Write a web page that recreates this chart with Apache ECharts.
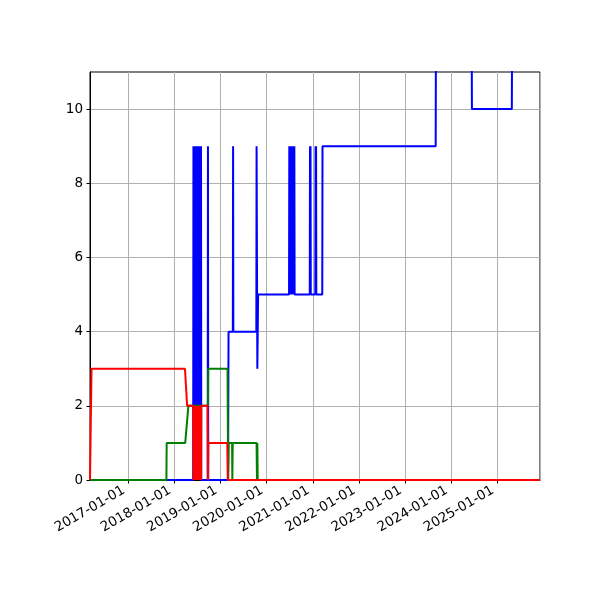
<!DOCTYPE html>
<html>
<head>
<meta charset="utf-8">
<script src="https://cdn.jsdelivr.net/npm/echarts@6/dist/echarts.min.js"></script>
<style>
  html, body { margin: 0; padding: 0; background: #fff; }
  #chart { width: 600px; height: 600px; }
</style>
</head>
<body>
<div id="chart"></div>
<script>
// [date, value] points
const blueSeries = [
    ['2016-03-04', 0], ['2018-05-30', 0],
    ['2018-06-01', 9], ['2018-06-03', 0], ['2018-06-05', 9], ['2018-06-07', 0],
    ['2018-06-09', 9], ['2018-06-11', 0], ['2018-06-13', 9], ['2018-06-15', 0],
    ['2018-06-17', 9], ['2018-06-19', 0], ['2018-06-21', 9], ['2018-06-23', 0],
    ['2018-06-25', 9], ['2018-06-27', 0], ['2018-06-29', 9], ['2018-07-01', 0],
    ['2018-07-03', 9], ['2018-07-05', 0], ['2018-07-07', 9], ['2018-07-09', 0],
    ['2018-07-11', 9], ['2018-07-13', 0], ['2018-07-15', 9], ['2018-07-17', 0],
    ['2018-07-19', 9], ['2018-07-21', 0], ['2018-07-23', 9], ['2018-07-25', 0],
    ['2018-07-27', 9], ['2018-07-29', 0], ['2018-07-31', 9], ['2018-08-02', 0],
    ['2018-09-22', 0], ['2018-09-24', 9], ['2018-09-26', 0],
    ['2019-03-02', 0], ['2019-03-06', 4], ['2019-04-09', 4], ['2019-04-11', 9], ['2019-04-13', 4],
    ['2019-10-12', 4], ['2019-10-14', 9], ['2019-10-20', 3], ['2019-10-26', 5],
    ['2020-06-27', 5],
    ['2020-06-29', 9], ['2020-07-01', 5], ['2020-07-03', 9], ['2020-07-05', 5],
    ['2020-07-07', 9], ['2020-07-09', 5], ['2020-07-11', 9], ['2020-07-13', 5],
    ['2020-07-15', 9], ['2020-07-17', 5], ['2020-07-19', 9], ['2020-07-21', 5],
    ['2020-07-23', 9], ['2020-07-25', 5], ['2020-07-27', 9], ['2020-07-29', 5],
    ['2020-07-31', 9], ['2020-08-02', 5], ['2020-08-04', 9], ['2020-08-06', 5],
    ['2020-08-08', 9], ['2020-08-10', 5],
    ['2020-12-08', 5], ['2020-12-10', 9], ['2020-12-12', 5], ['2020-12-14', 9], ['2020-12-16', 5],
    ['2021-01-21', 5], ['2021-01-23', 9], ['2021-01-25', 5], ['2021-01-27', 9], ['2021-01-29', 5],
    ['2021-03-17', 5], ['2021-03-19', 9],
    ['2023-09-01', 9], ['2023-09-03', 12],
    ['2024-06-12', 12], ['2024-06-14', 10],
    ['2025-04-26', 10], ['2025-04-28', 12],
    ['2025-12-05', 12]
];

const greenSeries = [
    ['2016-03-04', 0], ['2017-10-30', 0], ['2017-11-01', 1],
    ['2018-03-28', 1], ['2018-04-22', 2],
    ['2018-09-24', 2], ['2018-09-26', 3],
    ['2019-02-26', 3], ['2019-03-03', 0], ['2019-03-08', 1],
    ['2019-04-03', 1], ['2019-04-05', 0], ['2019-04-08', 1],
    ['2019-10-14', 1], ['2019-10-17', 0], ['2019-10-20', 1], ['2019-10-23', 0],
    ['2025-12-05', 0]
];

const redSeries = [
    ['2016-03-04', 0], ['2016-03-14', 0], ['2016-03-16', 3],
    ['2018-03-26', 3], ['2018-04-12', 2], ['2018-05-30', 2],
    ['2018-06-01', 0], ['2018-06-03', 2], ['2018-06-05', 0], ['2018-06-07', 2],
    ['2018-06-09', 0], ['2018-06-11', 2], ['2018-06-13', 0], ['2018-06-15', 2],
    ['2018-06-17', 0], ['2018-06-19', 2], ['2018-06-21', 0], ['2018-06-23', 2],
    ['2018-06-25', 0], ['2018-06-27', 2], ['2018-06-29', 0], ['2018-07-01', 2],
    ['2018-07-03', 0], ['2018-07-05', 2], ['2018-07-07', 0], ['2018-07-09', 2],
    ['2018-07-11', 0], ['2018-07-13', 2], ['2018-07-15', 0], ['2018-07-17', 2],
    ['2018-07-19', 0], ['2018-07-21', 2], ['2018-07-23', 0], ['2018-07-25', 2],
    ['2018-07-27', 0], ['2018-07-29', 2], ['2018-07-31', 0], ['2018-08-02', 2],
    ['2018-09-21', 2], ['2018-09-24', 0], ['2018-09-27', 1],
    ['2019-02-24', 1], ['2019-02-28', 0],
    ['2025-12-05', 0]
];

const xMin = '2016-03-04';
const xMax = '2025-12-05';
const yTicks = [0, 2, 4, 6, 8, 10];

const YEAR = 365.25 * 24 * 3600 * 1000;
const font = 'DejaVu Sans';

function line_chart(element) {
    const chartDom = document.getElementById(element);
    const myChart = echarts.init(chartDom);
    let option;

    function lineSeries(data, color) {
        return {
            type: 'line',
            data: data,
            showSymbol: false,
            animation: false,
            lineStyle: {color: color, width: 2},
            itemStyle: {color: color},
            clip: true
        };
    }

    option = {
        animation: false,
        grid: {
            left: 90,
            right: 60,
            top: 72,
            bottom: 120,
            show: true,
            borderColor: '#000',
            borderWidth: 1
        },
        xAxis: {
            type: 'time',
            min: xMin,
            max: xMax,
            minInterval: YEAR,
            maxInterval: YEAR,
            axisLine: {show: true, lineStyle: {color: '#000', width: 1}},
            axisTick: {show: true, length: 3.5, lineStyle: {color: '#000'}},
            axisLabel: {
                rotate: 30,
                margin: 7,
                padding: [0, 5, 0, 0],
                color: '#000',
                fontFamily: font,
                fontSize: 13.5,
                showMinLabel: false,
                showMaxLabel: false,
                formatter: '{yyyy}-{MM}-{dd}'
            },
            splitLine: {show: true, lineStyle: {color: '#b0b0b0', width: 1}}
        },
        yAxis: {
            type: 'value',
            min: 0,
            max: 11,
            interval: 2,
            axisLine: {show: true, lineStyle: {color: '#000', width: 1}},
            axisTick: {show: true, length: 3.5, lineStyle: {color: '#000'}, customValues: yTicks},
            axisLabel: {
                margin: 7,
                color: '#000',
                fontFamily: font,
                fontSize: 13.5,
                customValues: yTicks
            },
            splitLine: {show: true, lineStyle: {color: '#b0b0b0', width: 1}}
        },
        series: [
            lineSeries(blueSeries, '#0000ff'),
            lineSeries(greenSeries, '#008000'),
            lineSeries(redSeries, '#ff0000')
        ]
    };

    option && myChart.setOption(option);
}

line_chart('chart');
</script>
</body>
</html>
